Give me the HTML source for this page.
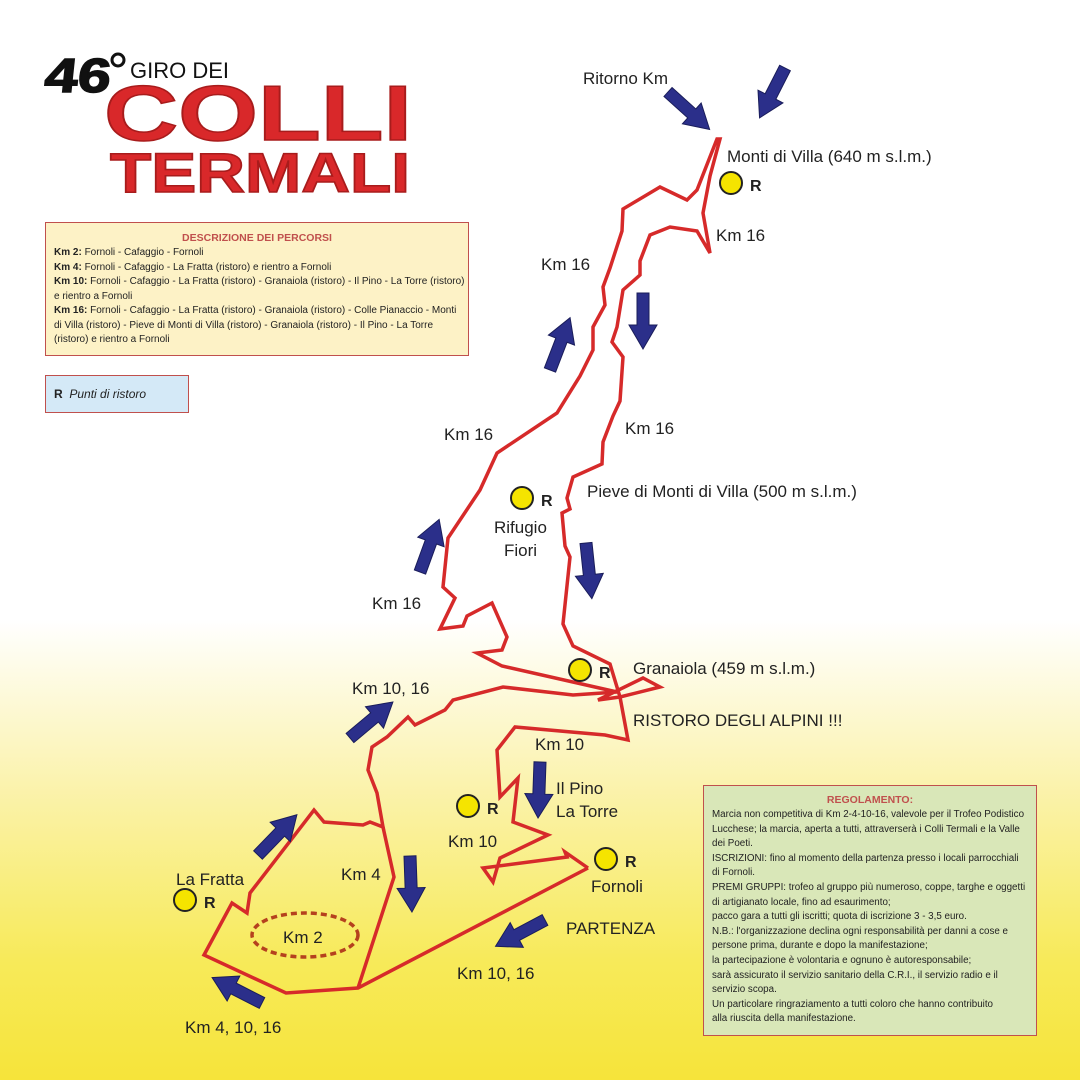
<!DOCTYPE html>
<html><head><meta charset="utf-8"><style>
html,body{margin:0;padding:0}
body{width:1080px;height:1080px;overflow:hidden;background:linear-gradient(to bottom,#fff 0,#fff 620px,#fbf3b0 780px,#f7ea5a 960px,#f6e43a 1080px);font-family:"Liberation Sans",sans-serif}
svg{position:absolute;left:0;top:0}
.box{position:absolute;box-sizing:border-box;border:1.5px solid #c0504d;font-size:9px;line-height:14.5px;color:#222;padding:0 8px;white-space:nowrap}
.box h4{margin:0;text-align:center;color:#c0504d;font-size:10.5px;line-height:16px}
</style></head><body>
<svg width="1080" height="1080" viewBox="0 0 1080 1080" font-family="Liberation Sans, sans-serif">
<defs>
<polygon id="ar" points="0,-6 32,-6 32,-14 56,0 32,14 32,6 0,6" fill="#2b2f8a" stroke="#1a1d5a" stroke-width="1"/>
</defs>
<text x="44" y="92" font-size="48" font-weight="bold" fill="#111" stroke="#111" stroke-width="1.5" textLength="66" lengthAdjust="spacingAndGlyphs" transform="skewX(-6) translate(9,0)">46</text>
<circle cx="118" cy="60" r="6" fill="none" stroke="#111" stroke-width="3"/>
<text x="130" y="78" font-size="22" fill="#111">GIRO DEI</text>
<text x="104" y="140" font-size="78" font-weight="bold" fill="#d9282a" stroke="#a81c1c" stroke-width="1.5" textLength="308" lengthAdjust="spacingAndGlyphs">COLLI</text>
<text x="110" y="192" font-size="56" font-weight="bold" fill="#d9282a" stroke="#a81c1c" stroke-width="1.5" textLength="300" lengthAdjust="spacingAndGlyphs">TERMALI</text>

<g fill="none" stroke="#d62a2a" stroke-width="3.5" stroke-linejoin="miter">
<path d="M588,868 L358,988 L286,993 L204,955 L232,903 L247,913 L250,893 L314,810 L324,822 L363,825 L370,822 L383,827 L377,793 L368,770 L372,747 L387,737 L408,717 L415,725 L445,710 L453,700 L503,687 L573,695 L617,692 L502,666 L477,653 L502,650 L507,637 L492,603 L467,616 L463,626 L440,629 L455,598 L443,587 L448,538 L480,490 L497,453 L557,413 L580,376 L593,350 L593,327 L605,305 L603,287 L610,268 L622,231 L623,209 L660,187 L687,200 L697,190 L717,139 L720,139 L710,176 L703,213 L710,253 L697,231 L670,227 L650,235 L640,261 L640,275 L623,290 L617,327 L612,342 L623,357 L620,401 L613,416 L603,442 L602,464 L573,477 L567,498 L570,509 L562,513 L565,546 L570,557 L563,624 L573,646 L610,664 L620,697 L660,687 L643,678 L598,700 L620,697 L628,740 L605,735 L515,727 L497,750 L500,797 L518,778 L513,822 L548,835 L500,858 L493,882 L483,868 L567,857 L565,852 L588,868"/>
<path d="M383,827 L394,877 L358,988"/>
</g>
<ellipse cx="305" cy="935" rx="53" ry="22" fill="none" stroke="#b5411e" stroke-width="3.5" stroke-dasharray="6,4"/>

<use href="#ar" transform="translate(668,92) rotate(42)"/>
<use href="#ar" transform="translate(785,68) rotate(117)"/>
<use href="#ar" transform="translate(643,293) rotate(90)"/>
<use href="#ar" transform="translate(550,370) rotate(-69)"/>
<use href="#ar" transform="translate(420,572) rotate(-70)"/>
<use href="#ar" transform="translate(586,543) rotate(84)"/>
<use href="#ar" transform="translate(350,738) rotate(-40)"/>
<use href="#ar" transform="translate(540,762) rotate(92)"/>
<use href="#ar" transform="translate(410,856) rotate(88)"/>
<use href="#ar" transform="translate(258,855) rotate(-46)"/>
<use href="#ar" transform="translate(545,920) rotate(152)"/>
<use href="#ar" transform="translate(262,1003) rotate(-153)"/>

<g fill="#f5e400" stroke="#222" stroke-width="2">
<circle cx="731" cy="183" r="11"/><circle cx="522" cy="498" r="11"/><circle cx="580" cy="670" r="11"/>
<circle cx="468" cy="806" r="11"/><circle cx="606" cy="859" r="11"/><circle cx="185" cy="900" r="11"/>
</g>
<g font-size="16" font-weight="bold" fill="#222">
<text x="750" y="191">R</text><text x="541" y="506">R</text><text x="599" y="678">R</text>
<text x="487" y="814">R</text><text x="625" y="867">R</text><text x="204" y="908">R</text>
</g>

<g font-size="17" fill="#222">
<text x="583" y="84">Ritorno Km</text>
<text x="727" y="162">Monti di Villa (640 m s.l.m.)</text>
<text x="716" y="241">Km 16</text>
<text x="541" y="270">Km 16</text>
<text x="625" y="434">Km 16</text>
<text x="444" y="440">Km 16</text>
<text x="587" y="497">Pieve di Monti di Villa (500 m s.l.m.)</text>
<text x="494" y="533">Rifugio</text>
<text x="504" y="556">Fiori</text>
<text x="372" y="609">Km 16</text>
<text x="633" y="674">Granaiola (459 m s.l.m.)</text>
<text x="352" y="694">Km 10, 16</text>
<text x="633" y="726">RISTORO DEGLI ALPINI !!!</text>
<text x="535" y="750">Km 10</text>
<text x="556" y="794">Il Pino</text>
<text x="556" y="817">La Torre</text>
<text x="448" y="847">Km 10</text>
<text x="341" y="880">Km 4</text>
<text x="176" y="885">La Fratta</text>
<text x="591" y="892">Fornoli</text>
<text x="566" y="934">PARTENZA</text>
<text x="283" y="943">Km 2</text>
<text x="457" y="979">Km 10, 16</text>
<text x="185" y="1033">Km 4, 10, 16</text>
</g>
</svg>

<div class="box" style="left:45px;top:222px;width:424px;height:134px;background:#fdf2c6;padding-top:7px;font-size:10px">
<h4>DESCRIZIONE DEI PERCORSI</h4>
<b>Km 2:</b> Fornoli - Cafaggio - Fornoli<br>
<b>Km 4:</b> Fornoli - Cafaggio - La Fratta (ristoro) e rientro a Fornoli<br>
<b>Km 10:</b> Fornoli - Cafaggio - La Fratta (ristoro) - Granaiola (ristoro) - Il Pino - La Torre (ristoro)<br>e rientro a Fornoli<br>
<b>Km 16:</b> Fornoli - Cafaggio - La Fratta (ristoro) - Granaiola (ristoro) - Colle Pianaccio - Monti<br>di Villa (ristoro) - Pieve di Monti di Villa (ristoro) - Granaiola (ristoro) - Il Pino - La Torre<br>(ristoro) e rientro a Fornoli
</div>
<div class="box" style="left:45px;top:375px;width:144px;height:38px;background:#d4e9f7;font-size:12px;line-height:36px">
<b>R</b>&nbsp; <i>Punti di ristoro</i></div>
<div class="box" style="left:703px;top:785px;width:334px;height:251px;background:#d9e7b8;padding-top:6px;line-height:14.6px;font-size:9.8px">
<h4>REGOLAMENTO:</h4>
Marcia non competitiva di Km 2-4-10-16, valevole per il Trofeo Podistico<br>Lucchese; la marcia, aperta a tutti, attraverserà i Colli Termali e la Valle<br>dei Poeti.<br>
ISCRIZIONI: fino al momento della partenza presso i locali parrocchiali<br>di Fornoli.<br>
PREMI GRUPPI: trofeo al gruppo più numeroso, coppe, targhe e oggetti<br>di artigianato locale, fino ad esaurimento;<br>
pacco gara a tutti gli iscritti; quota di iscrizione 3 - 3,5 euro.<br>
N.B.: l'organizzazione declina ogni responsabilità per danni a cose e<br>persone prima, durante e dopo la manifestazione;<br>
la partecipazione è volontaria e ognuno è autoresponsabile;<br>
sarà assicurato il servizio sanitario della C.R.I., il servizio radio e il<br>servizio scopa.<br>
Un particolare ringraziamento a tutti coloro che hanno contribuito<br>alla riuscita della manifestazione.
</div>
</body></html>
